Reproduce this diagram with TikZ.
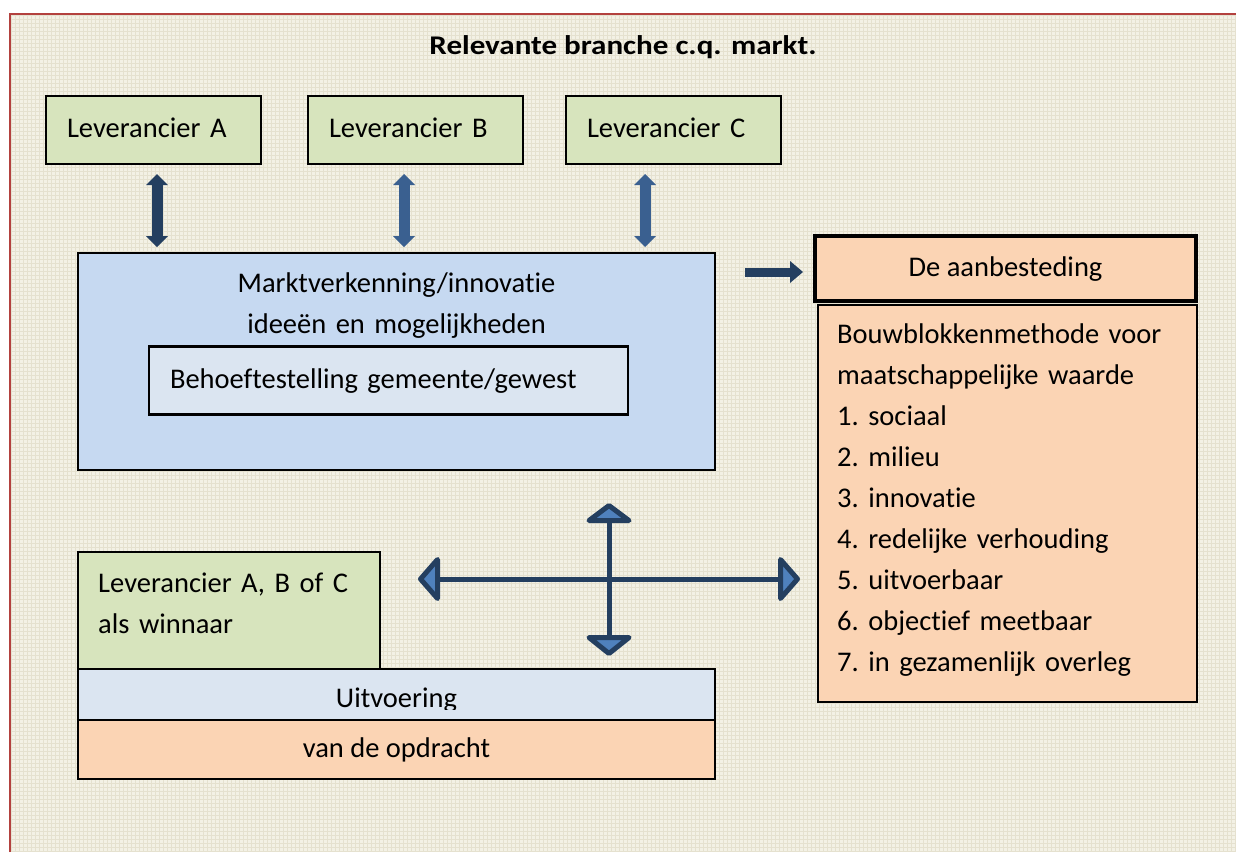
\documentclass[tikz,border=0pt]{standalone}
\usepackage{fontspec}
\setmainfont{Carlito}[Ligatures=NoCommon]
\usetikzlibrary{arrows.meta}
\definecolor{bgbeige}{HTML}{F3F1E5}
\definecolor{gridbeige}{HTML}{E5E1CF}
\definecolor{framered}{HTML}{B3413E}
\definecolor{boxgreen}{HTML}{D7E4BD}
\definecolor{boxblue}{HTML}{C6D9F1}
\definecolor{boxlight}{HTML}{DBE5F1}
\definecolor{boxpeach}{HTML}{FBD4B4}
\definecolor{navy}{HTML}{243F60}
\definecolor{steel}{HTML}{3A6090}
\definecolor{crossfill}{HTML}{4F81BD}
\tikzset{
  boxframe/.style={draw=black, line width=2pt, inner sep=0pt},
  labeltext/.style={font=\fontsize{28.5}{41}\selectfont\frenchspacing, inner sep=0pt, text=black},
  onelabel/.style={labeltext, text height=21pt, text depth=6pt},
  fatarrow/.style={line width=11pt, {Triangle[length=11pt,width=22pt,line width=0pt]}-{Triangle[length=11pt,width=22pt,line width=0pt]}},
  crosshead/.style={fill=crossfill, draw=navy, line width=5pt, line join=round},
  crossline/.style={draw=navy, line width=5pt},
}
\begin{document}
\begin{tikzpicture}[x=1pt,y=-1pt]
\useasboundingbox (0,0) rectangle (1236,852);
\fill[white] (0,0) rectangle (1236,852);
\fill[bgbeige] (10,14) rectangle (1236,852);
\foreach \i in {0,...,306} \draw[gridbeige,line width=0.7pt] ({11+4*\i},14) -- ({11+4*\i},852);
\foreach \j in {0,...,209} \draw[gridbeige,line width=0.7pt] (10,{15+4*\j}) -- (1236,{15+4*\j});
\draw[framered,line width=2.5pt] (10,852) -- (10,14) -- (1236,14);

% title
\node[font=\fontsize{27}{32}\selectfont\bfseries, inner sep=0pt, anchor=base] (title) at (623,54) {\scalebox{1.15}[1]{Relevante branche c.q. markt.}};

% suppliers
\node[boxframe, fill=boxgreen, minimum width=215pt, minimum height=68pt, onelabel, inner xsep=21pt, text width=173pt, align=left] (levA) at (153.5,130) {Leverancier A};
\node[boxframe, fill=boxgreen, minimum width=215pt, minimum height=68pt, onelabel, inner xsep=21pt, text width=173pt, align=left] (levB) at (415.5,130) {Leverancier B};
\node[boxframe, fill=boxgreen, minimum width=215pt, minimum height=68pt, onelabel, inner xsep=21pt, text width=173pt, align=left] (levC) at (673.5,130) {Leverancier C};

% market box
\node[boxframe, fill=boxblue, minimum width=637pt, minimum height=217pt] (mkt) at (396.5,361.5) {};
\node[labeltext, text width=520pt, align=center, anchor=base] (mkttxt) at (396.5,292) {Marktverkenning/innovatie\\ideeën en mogelijkheden};
\node[boxframe, line width=2.5pt, fill=boxlight, minimum width=479pt, minimum height=68pt, onelabel, inner xsep=21pt, text width=437pt, align=left] (need) at (388.5,380.5) {Behoeftestelling gemeente/gewest};

% vertical arrows
\coordinate (aA1) at (157,174); \coordinate (aA2) at (157,247);
\coordinate (aB1) at (404,174); \coordinate (aB2) at (404,247);
\coordinate (aC1) at (645,174); \coordinate (aC2) at (645,247);
\draw[fatarrow, navy] (aA1) -- (aA2);
\draw[fatarrow, steel] (aB1) -- (aB2);
\draw[fatarrow, steel] (aC1) -- (aC2);

% right arrow
\coordinate (ra1) at (745,272); \coordinate (ra2) at (803,272);
\draw[navy, line width=9pt, -{Triangle[length=13pt,width=22pt,line width=0pt]}] (ra1) -- (ra2);

% tender
\node[boxframe, line width=3.5pt, fill=boxpeach, minimum width=381pt, minimum height=65pt, onelabel] (tender) at (1005.5,268.5) {De aanbesteding};
\node[boxframe, fill=boxpeach, minimum width=379pt, minimum height=397pt] (bouw) at (1007.5,503.5) {};
\node[labeltext, text width=350pt, align=left, anchor=base west] (bouwtxt) at (837,343) {Bouwblokkenmethode voor\\maatschappelijke waarde\\1. sociaal\\2. milieu\\3. innovatie\\4. redelijke verhouding\\5. uitvoerbaar\\6. objectief meetbaar\\7. in gezamenlijk overleg};

% winner and execution
\node[boxframe, fill=boxgreen, minimum width=302pt, minimum height=117pt] (win) at (229,610.5) {};
\node[labeltext, text width=270pt, align=left, anchor=base west] (wintxt) at (98,592) {Leverancier A, B of C\\als winnaar};
\node[boxframe, fill=boxlight, minimum width=637pt, minimum height=51pt] (uitv) at (396.5,694.5) {};
\begin{scope}
\clip (78,669) rectangle (715,709);
\node[labeltext, anchor=base] (uitvtxt) at (396.5,707) {Uitvoering};
\end{scope}
\node[boxframe, fill=boxpeach, minimum width=637pt, minimum height=59pt, onelabel] (opdr) at (396.5,749.5) {van de opdracht};

% cross arrow
\coordinate (cxl) at (437.5,579); \coordinate (cxr) at (780.5,579);
\coordinate (cyt) at (609,520.5); \coordinate (cyb) at (609,637.5);
\draw[crossline] (cxl) -- (cxr);
\draw[crossline] (cyt) -- (cyb);
\filldraw[crosshead] (420.5,579) -- (437.5,559.5) -- (437.5,598.5) -- cycle;
\filldraw[crosshead] (797.5,579) -- (780.5,559.5) -- (780.5,598.5) -- cycle;
\filldraw[crosshead] (609,505.5) -- (589,520.5) -- (629,520.5) -- cycle;
\filldraw[crosshead] (609,653.5) -- (589,637.5) -- (629,637.5) -- cycle;
\end{tikzpicture}
\end{document}
